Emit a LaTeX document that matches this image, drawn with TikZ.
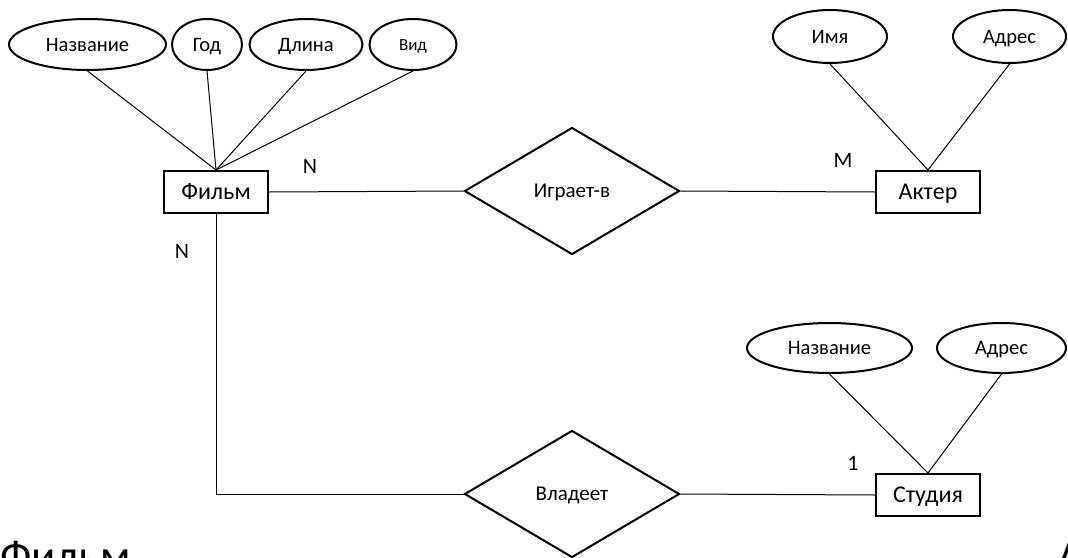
\documentclass[tikz,border=0pt]{standalone}
\usepackage{fontspec}
\setmainfont{Carlito}
\usetikzlibrary{shapes.geometric}
\begin{document}
\begin{tikzpicture}[x=1pt,y=-1pt,
  entity/.style={draw, line width=2pt, rectangle, minimum width=104pt, minimum height=42pt, inner sep=0pt, text height=15.5pt, text depth=0pt, font=\fontsize{24}{26}\selectfont},
  attr/.style={draw, line width=2pt, ellipse, inner sep=0pt, text height=13.2pt, text depth=0pt, font=\fontsize{20.5}{22}\selectfont},
  rel/.style={draw, line width=2pt, diamond, inner sep=0pt, minimum width=215pt, minimum height=127pt, text height=13.5pt, text depth=0pt, font=\fontsize{21}{23}\selectfont},
  conn/.style={line width=1pt},
  card/.style={inner sep=0pt, text height=14.2pt, text depth=0pt, font=\fontsize{22}{24}\selectfont},
  bigtext/.style={anchor=base west, inner sep=0pt, font=\fontsize{45}{47}\selectfont}]
\useasboundingbox (0,0) rectangle (1068,557);
\clip (0,0) rectangle (1068,557);
% entities
\node[entity] (film) at (216,192) {Фильм};
\node[entity] (akter) at (928,192) {Актер};
\node[entity] (studia) at (928,495) {Студия};
% relationships
\node[rel] (igraet) at (572,191) {Играет-в};
\node[rel] (vladeet) at (572,494) {Владеет};
% film attributes
\node[attr, minimum width=157pt, minimum height=51pt] (fname) at (87.5,44.5) {Название};
\node[attr, minimum width=70pt, minimum height=51pt] (fgod) at (207,44.5) {Год};
\node[attr, minimum width=113pt, minimum height=51pt] (fdl) at (306,44.5) {Длина};
\node[attr, minimum width=87pt, minimum height=51pt, text height=11pt, font=\fontsize{17}{19}\selectfont] (fvid) at (413,44.5) {Вид};
% actor attributes
\node[attr, minimum width=114pt, minimum height=53pt] (aname) at (830,36.5) {Имя};
\node[attr, minimum width=113pt, minimum height=53pt] (aaddr) at (1009.5,36.5) {Адрес};
% studio attributes
\node[attr, minimum width=165pt, minimum height=50pt] (sname) at (829.5,348) {Название};
\node[attr, minimum width=129pt, minimum height=50pt] (saddr) at (1001.5,348) {Адрес};
% connectors
\foreach \a in {fname,fgod,fdl,fvid} \draw[conn] (film.north) -- (\a.south);
\foreach \a in {aname,aaddr} \draw[conn] (akter.north) -- (\a.south);
\foreach \a in {sname,saddr} \draw[conn] (studia.north) -- (\a.south);
\draw[conn] (film.east) -- (igraet.west);
\draw[conn] (igraet.east) -- (akter.west);
\draw[conn] (film.south) |- (vladeet.west);
\draw[conn] (vladeet.east) -- (studia.west);
% cardinalities
\node[card] (c1) at (310,166) {N};
\node[card] (c2) at (843,160) {M};
\node[card] (c3) at (182,251) {N};
\node[card] (c4) at (853,463) {1};
% cut-off text at the bottom
\node[bigtext] (big1) at (0,571) {Фильм};
\node[bigtext] (big2) at (1057,571) {А};
\end{tikzpicture}
\end{document}
